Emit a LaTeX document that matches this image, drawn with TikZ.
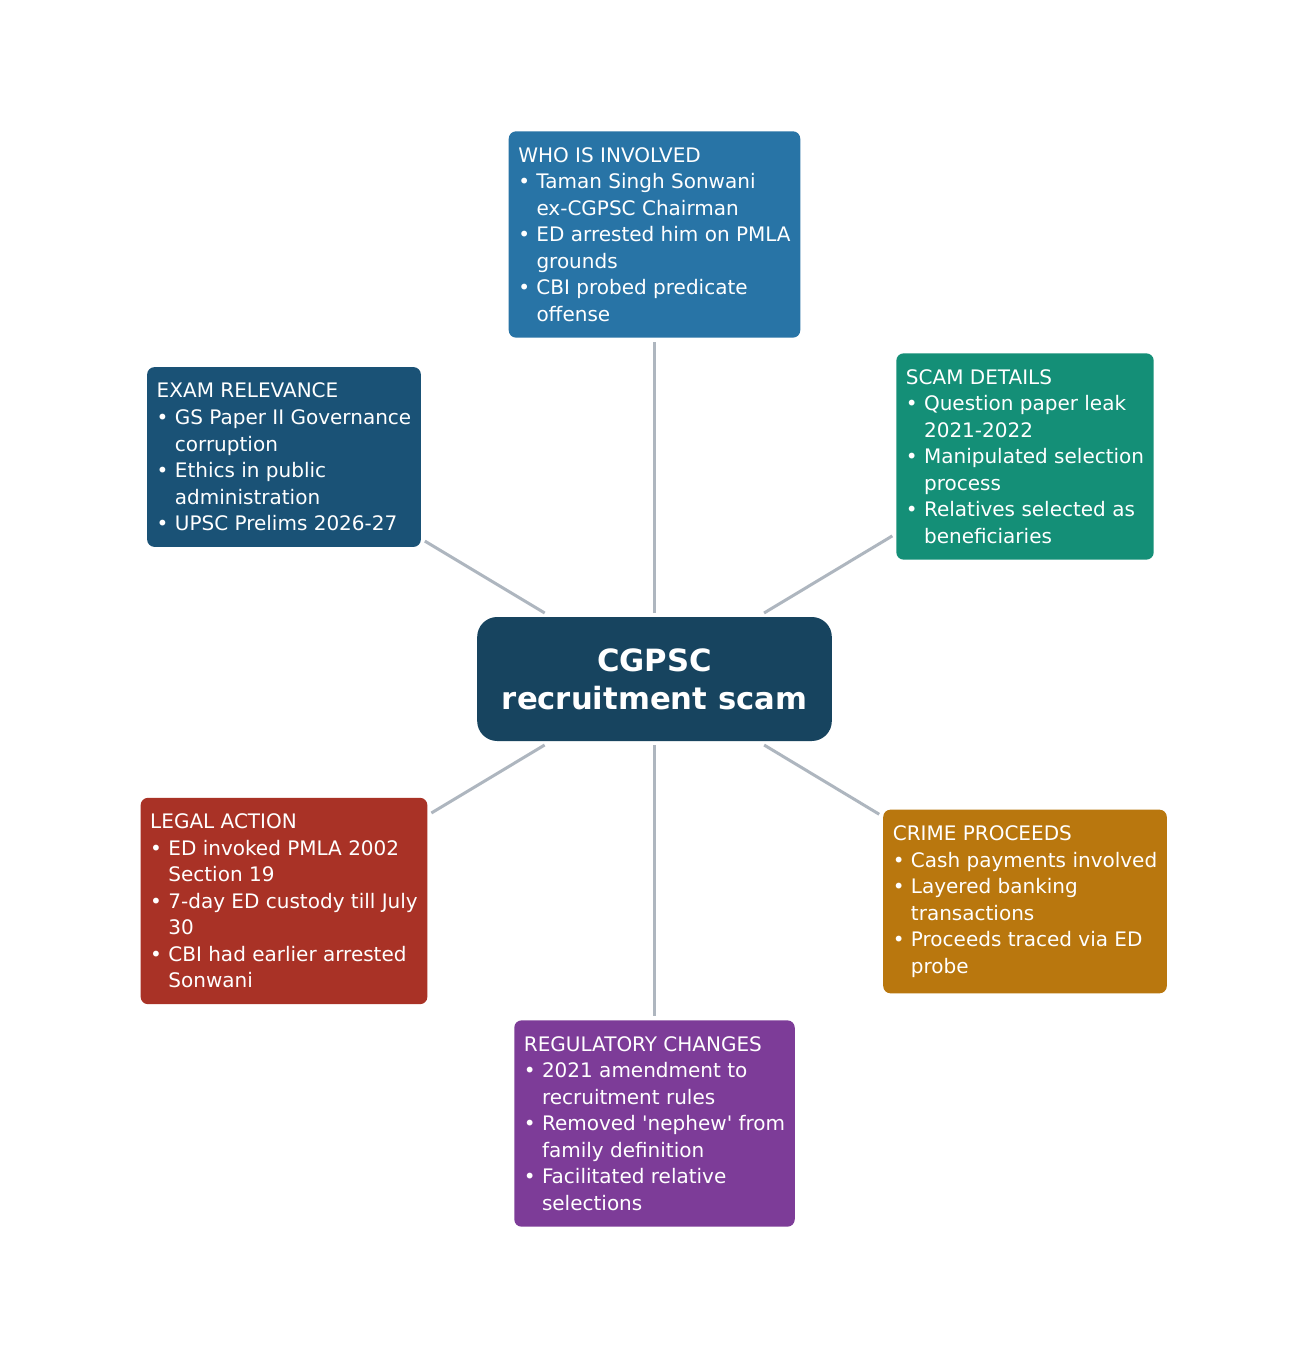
\documentclass[tikz,border=0pt]{standalone}
\usepackage{fontspec}
\setmainfont{DejaVu Sans}
\definecolor{cwho}{HTML}{2874A6}
\definecolor{cscam}{HTML}{148F77}
\definecolor{cexam}{HTML}{1A5276}
\definecolor{ccenter}{HTML}{17445F}
\definecolor{clegal}{HTML}{A93226}
\definecolor{ccrime}{HTML}{B9770E}
\definecolor{creg}{HTML}{7D3C98}
\definecolor{cline}{HTML}{AEB6BF}
\newcommand{\bl}{•\ }
\newcommand{\ct}{\hphantom{•\ }}
\begin{document}
\begin{tikzpicture}[x=0.75pt,y=-0.75pt,
  infobox/.style={fill=#1, text=white, rounded corners=5.5pt, align=left,
    inner xsep=7.2pt, inner ysep=12pt, outer sep=3pt,
    font=\fontsize{15}{19.9}\selectfont},
  hub/.style={fill=ccenter, text=white, rounded corners=15pt, align=center,
    minimum width=266pt, minimum height=93pt, outer sep=3pt,
    font=\fontsize{23}{28.5}\selectfont\bfseries},
  link/.style={draw=cline, line width=2.25pt}]
\useasboundingbox[fill=white] (0,0) rectangle (1308,1358);
\node[hub] (c) at (654.5,679) {CGPSC\\recruitment scam};
\node[infobox=cwho] (who) at (654.5,234.5) {WHO IS INVOLVED\\\bl Taman Singh Sonwani\\\ct ex-CGPSC Chairman\\\bl ED arrested him on PMLA\\\ct grounds\\\bl CBI probed predicate\\\ct offense};
\node[infobox=cscam] (scam) at (1025,456.5) {SCAM DETAILS\\\bl Question paper leak\\\ct 2021-2022\\\bl Manipulated selection\\\ct process\\\bl Relatives selected as\\\ct beneficiaries};
\node[infobox=cexam] (exam) at (284,457) {EXAM RELEVANCE\\\bl GS Paper II Governance\\\ct corruption\\\bl Ethics in public\\\ct administration\\\bl UPSC Prelims 2026-27};
\node[infobox=clegal] (legal) at (284,901) {LEGAL ACTION\\\bl ED invoked PMLA 2002\\\ct Section 19\\\bl 7-day ED custody till July\\\ct 30\\\bl CBI had earlier arrested\\\ct Sonwani};
\node[infobox=ccrime] (crime) at (1025,901.5) {CRIME PROCEEDS\\\bl Cash payments involved\\\bl Layered banking\\\ct transactions\\\bl Proceeds traced via ED\\\ct probe};
\node[infobox=creg] (reg) at (654.5,1123.5) {REGULATORY CHANGES\\\bl 2021 amendment to\\\ct recruitment rules\\\bl Removed \textquotesingle nephew\textquotesingle{} from\\\ct family definition\\\bl Facilitated relative\\\ct selections};
\foreach \t in {who,scam,exam,legal,crime,reg}{
  \draw[link] (c) -- (\t);
}
\end{tikzpicture}
\end{document}
